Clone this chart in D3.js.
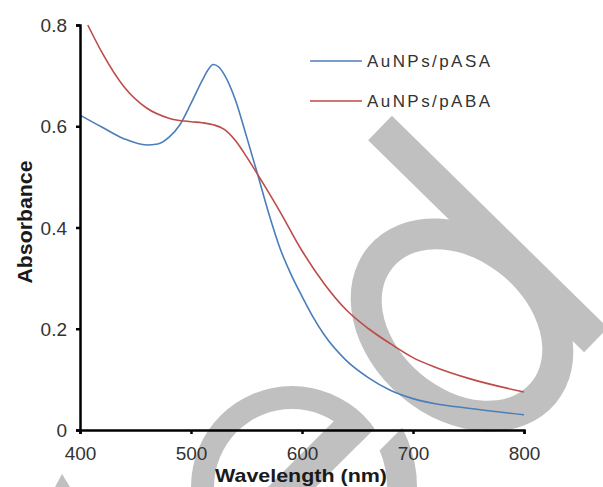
<!DOCTYPE html>
<html>
<head>
<meta charset="utf-8">
<script src="https://cdn.jsdelivr.net/npm/d3@7"></script>
<style>
  body { margin: 0; background: #fff; }
  svg { display: block; font-family: "Liberation Sans", Arial, sans-serif; }
</style>
</head>
<body>
<div id="chart"></div>
<script>
// data
const wavelengthASA = [400, 420, 440, 460, 470, 480, 490, 500, 510, 515, 520, 525, 530, 540, 550, 560, 570, 580, 590, 600, 610, 620, 640, 660, 680, 700, 720, 750, 800];
const absorbASA     = [0.622, 0.598, 0.575, 0.563, 0.565, 0.578, 0.603, 0.645, 0.690, 0.710, 0.722, 0.717, 0.702, 0.652, 0.580, 0.505, 0.428, 0.360, 0.308, 0.264, 0.223, 0.188, 0.137, 0.103, 0.078, 0.062, 0.052, 0.043, 0.030];
const wavelengthABA = [407, 420, 440, 460, 480, 500, 510, 520, 530, 540, 550, 560, 580, 600, 620, 640, 660, 680, 700, 720, 750, 800];
const absorbABA     = [0.800, 0.745, 0.677, 0.636, 0.616, 0.609, 0.607, 0.603, 0.594, 0.572, 0.540, 0.505, 0.432, 0.354, 0.289, 0.237, 0.200, 0.170, 0.143, 0.124, 0.102, 0.075];
const seriesNames = ["AuNPs/pASA", "AuNPs/pABA"];
const xTicks = [400, 500, 600, 700, 800];
const yTicks = [0, 0.2, 0.4, 0.6, 0.8];

const width = 603, height = 487;
const colors = ["#4a7ebb", "#be4b48"];
const grey = "#c0c0c0";

const svg = d3.select("#chart").append("svg")
  .attr("width", width)
  .attr("height", height);

// grey overlay letters in the background
const defs = svg.append("defs");
defs.append("clipPath").attr("id", "cutRing")
  .append("polygon").attr("points", "0,0 803,0 0,803");
defs.append("clipPath").attr("id", "cutBar")
  .append("polygon").attr("points", "755,0 803,0 0,803 0,755");
defs.append("clipPath").attr("id", "cutTail")
  .append("polygon").attr("points", "830,0 1000,0 1000,1000 0,1000 0,830");

const bg = svg.append("g").attr("fill", grey);

function ringPath(cx, cy, r1, r2) {
  const p = d3.path();
  p.moveTo(cx + r2, cy); p.arc(cx, cy, r2, 0, 2 * Math.PI);
  p.moveTo(cx + r1, cy); p.arc(cx, cy, r1, 0, 2 * Math.PI);
  return p.toString();
}

// lower "e"
bg.append("path").attr("d", ringPath(292, 487, 78, 101))
  .attr("fill-rule", "evenodd").attr("clip-path", "url(#cutRing)");
bg.append("circle").attr("cx", 292).attr("cy", 487).attr("r", 101)
  .attr("clip-path", "url(#cutBar)");
bg.append("path").attr("d", ringPath(292, 487, 95, 125))
  .attr("fill-rule", "evenodd").attr("clip-path", "url(#cutTail)");
bg.append("polygon").attr("points", "55,487 62,474 70,487");

// right "d": bowl + stem
const bowl = bg.append("g").attr("transform", "translate(462,325) rotate(40)");
bowl.append("path")
  .attr("d", "M122,0 A122,94 0 1,1 -122,0 A122,94 0 1,1 122,0 Z M90,0 A90,64 0 1,0 -90,0 A90,64 0 1,0 90,0 Z")
  .attr("fill-rule", "evenodd");
const stemLen = Math.hypot(596 - 380, 340 - 128);
const stemAng = Math.atan2(340 - 128, 596 - 380) * 180 / Math.PI;
bg.append("rect")
  .attr("transform", `translate(380,128) rotate(${stemAng})`)
  .attr("x", 0).attr("y", -17)
  .attr("width", stemLen).attr("height", 34);

// scales & axes
const x = d3.scaleLinear().domain([400, 800]).range([80, 524]);
const y = d3.scaleLinear().domain([0, 0.8]).range([430, 25]);

const line = d3.line()
  .x(d => x(d[0]))
  .y(d => y(d[1]))
  .curve(d3.curveMonotoneX);

const series = [
  wavelengthASA.map((w, i) => [w, absorbASA[i]]),
  wavelengthABA.map((w, i) => [w, absorbABA[i]])
];

svg.selectAll(".series")
  .data(series)
  .enter()
  .append("path")
  .attr("class", "series")
  .attr("d", line)
  .attr("fill", "none")
  .attr("stroke", (d, i) => colors[i])
  .attr("stroke-width", 1.6);

const xAxis = svg.append("g")
  .attr("transform", `translate(0,${y(0)})`)
  .call(d3.axisBottom(x).tickValues(xTicks).tickSize(4).tickSizeOuter(4));
const yAxis = svg.append("g")
  .attr("transform", `translate(${x(400)},0)`)
  .call(d3.axisLeft(y).tickValues(yTicks).tickFormat(d3.format("~g")).tickSize(4).tickSizeOuter(4));

[xAxis, yAxis].forEach(ax => {
  ax.select(".domain").attr("stroke", "#000").attr("stroke-width", 2.5);
  ax.selectAll(".tick line").attr("stroke", "#000").attr("stroke-width", 2.5);
  ax.selectAll(".tick text")
    .attr("fill", "#333")
    .style("font-size", "19px")
    .style("font-family", "'Liberation Sans', Arial, sans-serif");
});
xAxis.selectAll(".tick text").attr("y", 30).attr("dy", 0);
yAxis.selectAll(".tick text").attr("x", -13).attr("dy", "0.35em");

// axis titles
svg.append("text")
  .attr("x", 301).attr("y", 482)
  .attr("text-anchor", "middle")
  .attr("font-weight", "bold")
  .attr("font-size", 19)
  .attr("fill", "#1a1a1a")
  .attr("textLength", 172)
  .attr("lengthAdjust", "spacingAndGlyphs")
  .text("Wavelength (nm)");

svg.append("text")
  .attr("transform", "translate(32,222) rotate(-90)")
  .attr("text-anchor", "middle")
  .attr("font-weight", "bold")
  .attr("font-size", 20)
  .attr("fill", "#1a1a1a")
  .attr("textLength", 123)
  .attr("lengthAdjust", "spacingAndGlyphs")
  .text("Absorbance");

// legend
const legend = svg.append("g");
const legendY = [61, 101];
seriesNames.forEach((name, i) => {
  legend.append("line")
    .attr("x1", 310).attr("x2", 362)
    .attr("y1", legendY[i]).attr("y2", legendY[i])
    .attr("stroke", colors[i]).attr("stroke-width", 1.6);
  legend.append("text")
    .attr("x", 367).attr("y", legendY[i] + 6)
    .attr("font-size", 17)
    .attr("fill", "#333")
    .attr("textLength", 123)
    .attr("lengthAdjust", "spacing")
    .text(name);
});
</script>
</body>
</html>
